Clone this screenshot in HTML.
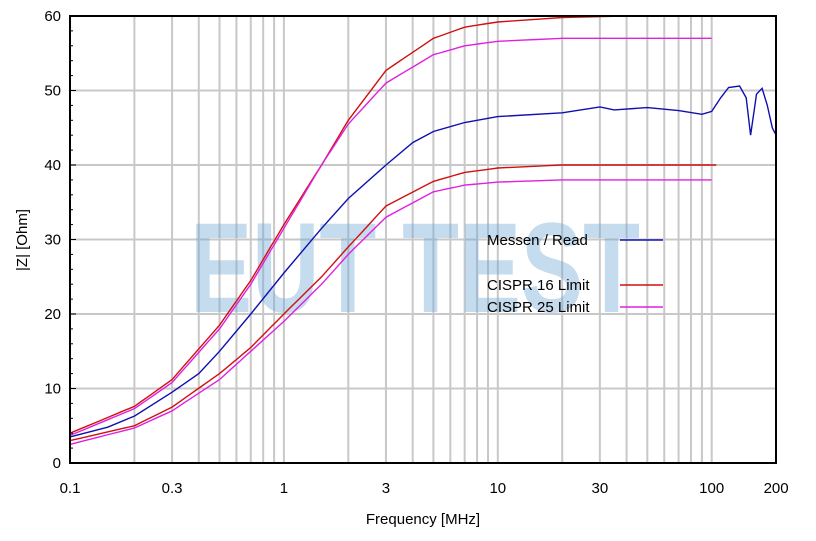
<!DOCTYPE html>
<html><head><meta charset="utf-8"><style>
body{margin:0;background:#fff;}
svg{display:block;font-family:"Liberation Sans",sans-serif;}
</style></head><body>
<svg id="s" width="816" height="541" xmlns="http://www.w3.org/2000/svg">
<g id="grid" stroke="#c8c8c8" stroke-width="2"></g>
<text x="415" y="312" font-size="128" fill="#6fa8d8" fill-opacity="0.4" text-anchor="middle" font-weight="bold" textLength="450" lengthAdjust="spacingAndGlyphs">EUT TEST</text>
<g id="curves" fill="none" stroke-width="1.4"></g>
<rect x="70" y="16" width="706" height="447" fill="none" stroke="#000" stroke-width="2"/>
<g id="ticks" stroke="#000" stroke-width="1"></g>
<g font-size="15" fill="#000" id="labels"></g>
<text x="423" y="524" font-size="15" text-anchor="middle">Frequency [MHz]</text>
<text transform="translate(27,240) rotate(-90)" font-size="15" text-anchor="middle">|Z| [Ohm]</text>
<g font-size="15">
<text x="487" y="245">Messen / Read</text><line x1="620" y1="240" x2="663" y2="240" stroke="#1010b0" stroke-width="1.4"/>
<text x="487" y="290">CISPR 16 Limit</text><line x1="620" y1="285" x2="663" y2="285" stroke="#d01010" stroke-width="1.4"/>
<text x="487" y="312">CISPR 25 Limit</text><line x1="620" y1="307" x2="663" y2="307" stroke="#e020e0" stroke-width="1.4"/>
</g>
</svg>
<script>
var NS="http://www.w3.org/2000/svg";
function X(f){return 70+213.9*(Math.log10(f)+1);}
function Y(v){return 463-v*7.45;}
function el(p,t,a,txt){var e=document.createElementNS(NS,t);for(var k in a)e.setAttribute(k,a[k]);if(txt)e.textContent=txt;document.getElementById(p).appendChild(e);}
for(var d=0.1;d<200;d*=10){for(var m=1;m<10;m++){var f=d*m;if(f<=0.1||f>=200)continue;var x=X(f);el("grid","line",{x1:x,y1:16,x2:x,y2:463});}}
for(var v=10;v<60;v+=10)el("grid","line",{x1:70,y1:Y(v),x2:776,y2:Y(v)});
for(var v=0;v<=60;v+=2){var y=Y(v);el("ticks","line",{x1:70,y1:y,x2:v%10?73:76,y2:y});}
for(var v=0;v<=60;v+=10)el("labels","text",{x:61,y:Y(v)+5,"text-anchor":"end"},String(v));
[[0.1,"0.1"],[0.3,"0.3"],[1,"1"],[3,"3"],[10,"10"],[30,"30"],[100,"100"],[200,"200"]].forEach(function(a){el("labels","text",{x:X(a[0]),y:493,"text-anchor":"middle"},a[1]);});
function curve(pts,col){var s="";
 // interpolate with cosine in log space
 for(var i=0;i<pts.length-1;i++){var a=pts[i],b=pts[i+1];for(var t=0;t<1;t+=0.2){var lf=Math.log10(a[0])+(Math.log10(b[0])-Math.log10(a[0]))*t;var v=a[1]+(b[1]-a[1])*t;s+=X(Math.pow(10,lf)).toFixed(1)+","+Y(v).toFixed(1)+" ";}}
 var l=pts[pts.length-1];s+=X(l[0]).toFixed(1)+","+Y(l[1]).toFixed(1);
 el("curves","polyline",{points:s,stroke:col});}
curve([[0.1,4],[0.2,7.6],[0.3,11.2],[0.5,18.5],[0.7,24.5],[1,32],[1.5,40],[2,46],[3,52.7],[5,57],[7,58.5],[10,59.2],[20,59.8],[40,60]],"#d01010");
curve([[0.1,3.7],[0.2,7.3],[0.3,10.8],[0.5,18],[0.7,24],[1,31.5],[1.5,40],[2,45.5],[3,51],[5,54.8],[7,56],[10,56.6],[20,57],[100,57]],"#e020e0");
curve([[0.1,3],[0.2,5],[0.3,7.5],[0.5,12],[0.7,15.5],[1,20],[1.5,25],[2,29],[3,34.5],[5,37.8],[7,39],[10,39.6],[20,40],[105,40]],"#d01010");
curve([[0.1,2.5],[0.2,4.7],[0.3,7],[0.5,11.2],[0.7,15],[1,19],[1.5,24],[2,28],[3,33],[5,36.4],[7,37.3],[10,37.7],[20,38],[100,38]],"#e020e0");
var b=[[0.1,3.5],[0.15,4.8],[0.2,6.3],[0.3,9.5],[0.4,12],[0.5,15],[0.7,20],[1,25.5],[1.5,31.5],[2,35.5],[3,40],[4,43],[5,44.5],[7,45.7],[10,46.5],[20,47],[30,47.8],[35,47.4],[50,47.7],[70,47.3],[90,46.8],[100,47.2],[110,49],[120,50.4],[135,50.6],[145,49],[152,44],[162,49.5],[172,50.3],[182,48],[192,45],[200,44]];
var s="";b.forEach(function(p){s+=X(p[0]).toFixed(1)+","+Y(p[1]).toFixed(1)+" ";});
el("curves","polyline",{points:s,stroke:"#1010b0"});
</script>
</body></html>
